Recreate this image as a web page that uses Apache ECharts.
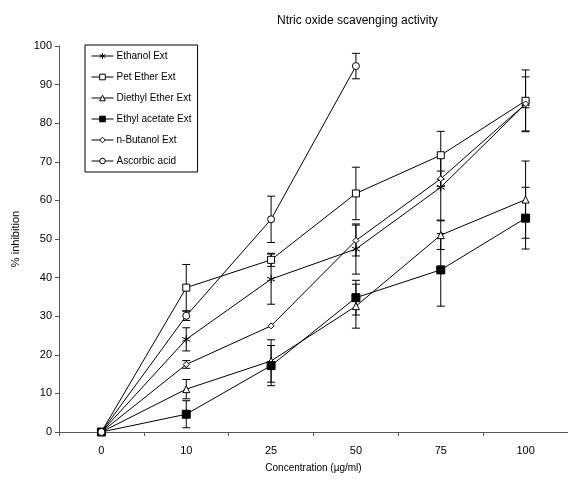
<!DOCTYPE html>
<html>
<head>
<meta charset="UTF-8">
<title>Ntric oxide scavenging activity</title>
<style>
  html, body { margin: 0; padding: 0; background: #fff; }
  #chart { width: 568px; height: 480px; }
</style>
<script src="https://cdn.jsdelivr.net/npm/echarts@6/dist/echarts.min.js"></script>
</head>
<body>
<div id="chart"></div>
<script>
// data
const concentrations = ['0', '10', '25', '50', '75', '100'];

const ethanol = [0, 24, 39.6, 47.4, 63.4, 85];
const ethanolErr = [0, 3, 6.5, 6.5, 8.5, 7];

const petEther = [0, 37.4, 44.6, 61.8, 71.7, 85.8];
const petEtherErr = [0, 6, 1.7, 6.8, 6.2, 8];

const diethylEther = [0, 11.1, 18.4, 32.6, 51, 60.2];
const diethylEtherErr = [0, 2.5, 5.5, 5.7, 3.7, 10];

const ethylAcetate = [0, 4.6, 17.2, 34.8, 42, 55.4];
const ethylAcetateErr = [0, 3.5, 5.2, 4.5, 9.4, 8];

const nButanol = [0, 17.5, 27.5, 49.6, 65.6, 85];
const nButanolErr = [0, 1, 0, 4, 2, 1];

const ascorbic = [0, 30.1, 55.1, 94.8];
const ascorbicErr = [0, 1.2, 6, 3.3];

const asterisk = 'path://M5,0L5,10M0.7,2.5L9.3,7.5M0.7,7.5L9.3,2.5';

function errData(vals, errs) {
  return vals.map((v, i) => [i, v - errs[i], v + errs[i]]).filter((d, i) => errs[i] > 0);
}

function errSeries(vals, errs) {
  return {
    type: 'custom',
    silent: true,
    z: 1,
    renderItem: function (params, api) {
      const lo = api.coord([api.value(0), api.value(1)]);
      const hi = api.coord([api.value(0), api.value(2)]);
      const w = 4;
      const style = { stroke: '#000', lineWidth: 1, fill: null };
      return {
        type: 'group',
        children: [
          { type: 'line', shape: { x1: hi[0], y1: hi[1], x2: lo[0], y2: lo[1] }, style: style },
          { type: 'line', shape: { x1: hi[0] - w, y1: hi[1], x2: hi[0] + w, y2: hi[1] }, style: style },
          { type: 'line', shape: { x1: lo[0] - w, y1: lo[1], x2: lo[0] + w, y2: lo[1] }, style: style }
        ]
      };
    },
    encode: { x: 0, y: [1, 2] },
    data: errData(vals, errs)
  };
}

function lineSeries(name, vals, symbol, size, fill) {
  return {
    name: name,
    type: 'line',
    data: vals,
    symbol: symbol,
    symbolSize: size,
    z: 3,
    lineStyle: { color: '#000', width: 1 },
    itemStyle: { color: fill, borderColor: '#000', borderWidth: 1 },
    emphasis: { disabled: true }
  };
}

const chart = echarts.init(document.getElementById('chart'));

chart.setOption({
  animation: false,
  backgroundColor: '#fff',
  textStyle: { fontFamily: 'Liberation Sans, Arial, sans-serif', color: '#000' },
  title: {
    text: 'Ntric oxide scavenging activity',
    left: 272,
    top: 10,
    textStyle: { fontSize: 12, fontWeight: 'normal', color: '#000' }
  },
  legend: {
    orient: 'vertical',
    left: 85,
    top: 45,
    padding: [6, 6, 6, 6],
    itemGap: 11,
    itemWidth: 22,
    itemHeight: 7,
    borderColor: '#000',
    borderWidth: 1,
    backgroundColor: '#fff',
    lineStyle: { width: 1 },
    itemStyle: { borderWidth: 1 },
    textStyle: { fontSize: 10, color: '#000', padding: [0, 0, 0, -2] },
    data: ['Ethanol Ext', 'Pet Ether Ext', 'Diethyl Ether Ext', 'Ethyl acetate Ext', 'n-Butanol Ext', 'Ascorbic acid']
  },
  grid: { left: 59, right: 0, top: 46, bottom: 48 },
  xAxis: {
    type: 'category',
    data: concentrations,
    boundaryGap: true,
    name: 'Concentration (\u00b5g/ml)',
    nameLocation: 'middle',
    nameGap: 31,
    nameTextStyle: { fontSize: 10, color: '#000' },
    axisLine: { lineStyle: { color: '#555' } },
    axisTick: { show: true, length: 4, lineStyle: { color: '#555' } },
    axisLabel: { fontSize: 11, color: '#000', margin: 13 },
    splitLine: { show: false }
  },
  yAxis: {
    type: 'value',
    min: 0,
    max: 100,
    interval: 10,
    name: '% inhibition',
    nameLocation: 'middle',
    nameRotate: 90,
    nameGap: 38,
    nameTextStyle: { fontSize: 11, color: '#000' },
    axisLine: { show: true, lineStyle: { color: '#555' } },
    axisTick: { show: true, length: 4, lineStyle: { color: '#555' } },
    axisLabel: { fontSize: 11, color: '#000', margin: 7 },
    splitLine: { show: false }
  },
  series: [
    lineSeries('Ethanol Ext', ethanol, asterisk, 8, '#000'),
    lineSeries('Pet Ether Ext', petEther, 'rect', 7, '#fff'),
    lineSeries('Diethyl Ether Ext', diethylEther, 'triangle', 7, '#fff'),
    lineSeries('Ethyl acetate Ext', ethylAcetate, 'rect', 8, '#000'),
    lineSeries('n-Butanol Ext', nButanol, 'diamond', 6, '#fff'),
    lineSeries('Ascorbic acid', ascorbic, 'circle', 7, '#fff'),
    errSeries(ethanol, ethanolErr),
    errSeries(petEther, petEtherErr),
    errSeries(diethylEther, diethylEtherErr),
    errSeries(ethylAcetate, ethylAcetateErr),
    errSeries(nButanol, nButanolErr),
    errSeries(ascorbic, ascorbicErr)
  ]
});
</script>
</body>
</html>
